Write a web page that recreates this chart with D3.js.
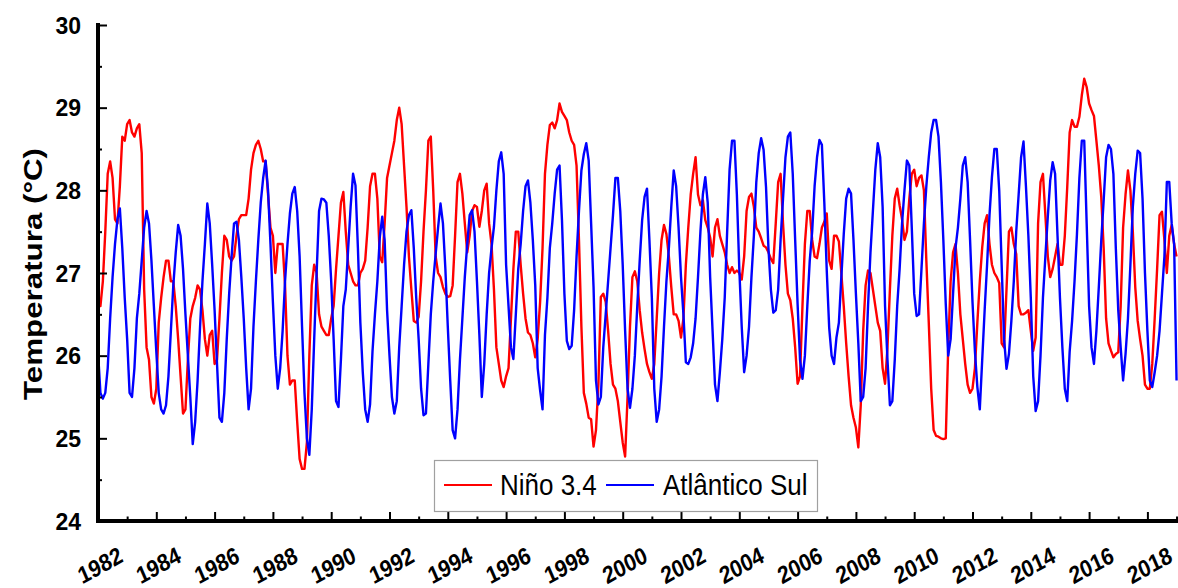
<!doctype html>
<html>
  <head>
    <title>Niño 3.4 e Atlântico Sul</title>
    <meta charset="utf-8" />
    <style>
      body { margin: 0; background: #fff; }
      svg { display: block; font-family: "Liberation Sans", Arial, sans-serif; }
      .serie { fill: none; stroke-width: 2.4px; stroke-linejoin: round; }
      .tick line { stroke: #000; stroke-width: 2px; }
      .ylab { font-size: 23px; font-weight: bold; }
      .xlab { font-size: 21px; font-weight: bold; }
    </style>
  </head>
  <body>
    <svg id="chart" width="1178" height="588"></svg>
    <script src="https://cdn.jsdelivr.net/npm/d3@7"></script>
    <script>
      var startYear = 1982;
      var yearTicks = [1982, 1984, 1986, 1988, 1990, 1992, 1994, 1996, 1998, 2000,
                       2002, 2004, 2006, 2008, 2010, 2012, 2014, 2016, 2018];
      var minorYearTicks = [1983, 1985, 1987, 1989, 1991, 1993, 1995, 1997, 1999, 2001,
                            2003, 2005, 2007, 2009, 2011, 2013, 2015, 2017, 2019];
      var tempTicks = [24, 25, 26, 27, 28, 29, 30];
      var minorTempTicks = [24.5, 25.5, 26.5, 27.5, 28.5, 29.5];
      var seriesNames = ['Niño 3.4', 'Atlântico Sul'];
      var seriesColors = ['#ff0000', '#0000ff'];

      // monthly values, Jan 1982 .. Jan 2019
      var nino34 = [
        26.7, 26.6, 26.9, 27.5, 28.2, 28.35, 28.15, 27.65, 27.6, 28.05, 28.65, 28.6,
        28.8, 28.85, 28.7, 28.65, 28.75, 28.8, 28.45, 26.8, 26.1, 25.95, 25.5, 25.42,
        25.6, 26.4, 26.7, 26.95, 27.15, 27.15, 26.9, 26.9, 26.6, 26.2, 25.75, 25.3,
        25.35, 25.95, 26.45, 26.6, 26.7, 26.85, 26.8, 26.55, 26.2, 26.0, 26.25, 26.3,
        25.9, 25.95, 26.45, 27.0, 27.45, 27.4, 27.2, 27.15, 27.2, 27.45, 27.65, 27.7,
        27.7, 27.7, 27.9, 28.25, 28.45, 28.55, 28.6, 28.5, 28.35, 28.35, 27.95, 27.55,
        27.45, 27.0, 27.35, 27.35, 27.35, 26.85, 26.0, 25.65, 25.7, 25.7, 25.2, 24.75,
        24.63, 24.63, 24.95, 26.0, 26.85, 27.1, 27.0, 26.5, 26.35, 26.3, 26.25, 26.25,
        26.45, 26.6, 27.05, 27.45, 27.85, 27.98, 27.5, 27.1, 27.0, 26.9, 26.85, 26.85,
        27.0, 27.05, 27.15, 27.55, 28.05, 28.2, 28.2, 27.9, 27.2, 27.13, 27.6, 28.15,
        28.3, 28.45, 28.6, 28.85, 29.0, 28.8, 28.3, 27.8, 27.2, 26.8, 26.42, 26.4,
        26.47, 26.9, 27.5, 28.0, 28.6, 28.65, 28.0, 27.2, 27.0, 26.95, 26.83, 26.75,
        26.71, 26.72, 26.85, 27.45, 28.1, 28.2, 27.96, 27.6, 27.25, 27.45, 27.75, 27.82,
        27.8, 27.56, 27.75, 28.0, 28.08, 27.6, 27.35, 26.8, 26.1, 25.9, 25.7, 25.62,
        25.75, 25.85, 26.45, 27.05, 27.5, 27.5, 27.1, 26.75, 26.45, 26.28, 26.25, 26.15,
        25.98, 26.2, 26.65, 27.3, 28.2, 28.55, 28.79, 28.82, 28.75, 28.85, 29.05, 28.95,
        28.9, 28.85, 28.7, 28.6, 28.55, 28.3, 27.4, 26.35, 25.55, 25.42, 25.25, 25.23,
        24.9, 25.1, 25.65, 26.71, 26.75, 26.65, 26.3, 25.9, 25.65, 25.6, 25.45, 25.2,
        24.95, 24.78, 25.5, 26.35, 26.95, 27.02, 26.9, 26.55, 26.28, 26.08, 25.9, 25.8,
        25.72, 25.9, 26.45, 27.0, 27.4, 27.58, 27.47, 27.2, 26.83, 26.5, 26.5, 26.42,
        26.22, 26.45, 27.1, 27.55, 27.95, 28.2, 28.4, 27.95, 27.82, 27.88, 27.64, 27.55,
        27.43, 27.2, 27.55, 27.65, 27.45, 27.35, 27.25, 27.1, 27.0, 27.07, 27.0, 27.03,
        27.0, 26.92, 27.2, 27.75, 27.92, 27.96, 27.8, 27.55, 27.5, 27.42, 27.33, 27.31,
        27.25, 27.17, 27.12, 27.6, 28.1, 28.2, 27.6, 27.1, 26.75, 26.67, 26.45, 26.1,
        25.66, 25.75, 26.6, 27.35, 27.75, 27.75, 27.4, 27.2, 27.18, 27.35, 27.55, 27.62,
        27.72, 27.15, 27.05, 27.45, 27.45, 27.38, 27.0, 26.6, 26.15, 25.75, 25.4, 25.25,
        25.13, 24.89, 25.4, 26.3, 26.85, 27.03, 27.0, 26.8, 26.6, 26.4, 26.3, 25.85,
        25.66, 26.1, 26.8, 27.45, 27.9, 28.02, 27.82, 27.65, 27.4, 27.5, 27.9, 28.2,
        28.25, 28.05, 28.15, 28.18, 28.0, 27.15, 26.4, 25.6, 25.1, 25.03, 25.02, 25.0,
        24.99, 25.0, 26.1, 26.9, 27.25, 27.35, 27.0, 26.5, 26.2, 25.9, 25.65, 25.55,
        25.6, 25.85, 26.4, 26.9, 27.31, 27.6, 27.7, 27.35, 27.1, 27.0, 26.95, 26.88,
        26.15, 26.1, 26.8, 27.5, 27.55, 27.35, 27.23, 26.6, 26.5, 26.5, 26.52, 26.55,
        26.3, 26.06, 26.22, 27.6, 28.1, 28.2, 27.7, 27.2, 26.95, 27.05, 27.2, 27.35,
        27.1, 27.1, 27.45, 28.04, 28.7, 28.85, 28.77, 28.77, 28.89, 29.15, 29.35, 29.25,
        29.05, 28.97, 28.9, 28.6, 28.3, 27.92, 27.3, 26.45, 26.15, 26.06, 25.98, 26.02,
        26.04, 26.6, 27.55, 27.95, 28.24, 28.0, 27.5, 26.83, 26.42, 26.2, 26.0, 25.65,
        25.6, 25.6, 25.9, 26.45, 27.05, 27.7, 27.74, 27.4, 27.0, 27.45, 27.58, 27.35,
        27.2
      ];

      var atlanticoSul = [
        26.05, 25.55, 25.48, 25.55, 25.85, 26.45, 26.95, 27.35, 27.65, 27.78, 27.3, 26.7,
        26.2, 25.55, 25.5, 25.85, 26.45, 26.75, 27.15, 27.55, 27.75, 27.6, 27.15, 26.6,
        26.05, 25.55, 25.35, 25.3, 25.4, 25.75, 26.3, 26.85, 27.25, 27.58, 27.45, 27.05,
        26.5, 26.0, 25.5, 24.93, 25.2, 25.7, 26.34, 26.9, 27.35, 27.84, 27.6, 27.1,
        26.55, 25.9, 25.25, 25.2, 25.55, 26.2, 26.75, 27.2, 27.6, 27.62, 27.4, 26.95,
        26.45, 25.85, 25.35, 25.6, 26.35, 26.9, 27.4, 27.85, 28.15, 28.36, 28.0, 27.35,
        26.65, 26.0, 25.6, 25.85, 26.3, 26.9, 27.35, 27.72, 27.96, 28.04, 27.75, 27.2,
        26.35, 25.55, 25.0, 24.8, 25.35, 26.2, 27.0, 27.75, 27.9, 27.89, 27.85, 27.45,
        26.9, 26.2, 25.45, 25.38, 25.95, 26.6, 26.8, 27.3, 27.8, 28.2, 28.06, 27.3,
        26.4, 25.8, 25.35, 25.2, 25.41, 26.05, 26.5, 26.9, 27.43, 27.68, 27.4, 26.55,
        26.0, 25.5, 25.3, 25.45, 26.1, 26.6, 27.1, 27.5, 27.7, 27.76, 27.3, 26.7,
        26.2, 25.6, 25.28, 25.3, 25.9, 26.5, 26.9, 27.23, 27.55, 27.84, 27.6, 27.05,
        26.35, 25.7, 25.1, 25.0, 25.35, 25.95, 26.45, 26.95, 27.35, 27.7, 27.76, 27.5,
        26.9, 26.25, 25.5, 25.9, 26.5, 27.0, 27.3, 27.56, 28.0, 28.35, 28.46, 28.2,
        27.1, 26.6, 26.1, 25.96, 26.5, 27.05, 27.35, 27.75, 28.05, 28.12, 27.85, 27.4,
        26.85, 25.85, 25.58, 25.35, 26.25, 26.7, 27.3, 27.6, 27.96, 28.25, 28.3, 27.64,
        26.75, 26.18, 26.08, 26.12, 26.55, 27.2, 27.75, 28.24, 28.44, 28.57, 28.36, 27.6,
        26.83, 25.7, 25.41, 25.5, 26.1, 26.5, 26.9, 27.3, 27.7, 28.15, 28.15, 27.75,
        27.1, 26.3, 25.6, 25.37, 25.6, 26.0, 26.6, 27.15, 27.64, 27.92, 28.02, 27.4,
        26.7, 25.6, 25.2, 25.35, 25.75, 26.35, 26.9, 27.3, 27.8, 28.24, 28.05, 27.55,
        26.95, 26.5, 25.92, 25.9, 25.98, 26.15, 26.45, 26.95, 27.5, 27.95, 28.16, 27.85,
        26.95, 26.3, 25.65, 25.45, 25.8, 26.2, 26.7, 27.5, 28.25, 28.6, 28.6, 27.95,
        27.05, 26.35, 25.8, 26.0, 26.35, 26.95, 27.45, 28.1, 28.45, 28.63, 28.49, 28.04,
        27.3, 26.8, 26.52, 26.55, 26.8, 27.4, 27.9, 28.4, 28.65, 28.7, 28.2, 27.4,
        26.62, 25.95, 25.72, 26.0, 26.6, 27.15, 27.5, 28.05, 28.4, 28.61, 28.55, 27.85,
        27.03, 26.34, 26.0, 25.9, 26.22, 26.4, 26.95, 27.47, 27.9, 28.02, 27.96, 27.4,
        26.75, 26.15, 25.45, 25.5, 25.85, 26.6, 27.25, 27.75, 28.25, 28.57, 28.4, 27.8,
        26.6, 25.95, 25.4, 25.45, 25.95, 26.6, 27.05, 27.6, 28.0, 28.36, 28.3, 27.55,
        26.75, 26.48, 26.5, 27.05, 27.6, 28.05, 28.4, 28.7, 28.85, 28.85, 28.65, 28.1,
        27.4, 26.62, 26.0, 26.2, 26.75, 27.3, 27.55, 27.9, 28.3, 28.4, 28.1, 27.4,
        26.65, 26.05, 25.62, 25.35, 25.95, 26.55, 27.1, 27.7, 28.16, 28.5, 28.5, 28.0,
        27.1, 26.2, 25.84, 26.02, 26.42, 26.9, 27.5, 27.95, 28.4, 28.59, 28.05, 27.45,
        26.7, 25.75, 25.33, 25.45, 26.0, 26.7, 27.2, 27.68, 28.12, 28.34, 28.2, 27.45,
        26.7, 26.1, 25.6, 25.45, 26.05, 26.42, 26.9, 27.47, 28.15, 28.6, 28.6, 27.6,
        26.6, 26.1, 25.9, 26.3, 26.83, 27.39, 27.88, 28.4, 28.55, 28.5, 28.2, 27.3,
        26.55, 26.1, 25.7, 26.02, 26.45, 27.1, 27.8, 28.2, 28.48, 28.45, 27.9, 27.0,
        26.3, 25.7, 25.62, 25.8, 26.0, 26.3, 26.75, 27.2, 28.1, 28.1, 27.6, 27.35,
        25.7
      ];

      var svg = d3.select('#chart');

      var x = d3.scaleLinear()
                .domain([1982, 2019.1])
                .range([98, 98 + 37.1 * 29.15]);
      var y = d3.scaleLinear()
                .domain([24, 30])
                .range([521, 25]);

      // data lines
      var line = d3.line()
                   .x(function(d, i) { return x(startYear + i / 12); })
                   .y(function(d) { return y(d); });

      var series = [nino34, atlanticoSul];
      svg.selectAll('.serie')
         .data(series)
         .enter().append('path')
         .attr('class', 'serie')
         .style('stroke', function(d, i) { return seriesColors[i]; })
         .attr('d', line);

      // y axis
      var yAxis = svg.append('g')
                     .attr('transform', 'translate(98,0)')
                     .call(d3.axisLeft(y)
                             .tickValues(tempTicks)
                             .tickSize(-9)
                             .tickPadding(17)
                             .tickFormat(d3.format('d')));
      yAxis.select('.domain').remove();
      yAxis.selectAll('text')
           .attr('class', 'ylab')
           .attr('fill', '#000')
           .attr('dy', '0.36em');

      var yMinor = svg.append('g')
                      .attr('transform', 'translate(98,0)')
                      .call(d3.axisLeft(y)
                              .tickValues(minorTempTicks)
                              .tickSize(-4)
                              .tickFormat(''));
      yMinor.select('.domain').remove();

      // x axis
      var xAxis = svg.append('g')
                     .attr('transform', 'translate(0,521)')
                     .call(d3.axisBottom(x)
                             .tickValues(yearTicks)
                             .tickSize(-9)
                             .tickFormat(''));
      xAxis.select('.domain').remove();

      var xMinor = svg.append('g')
                      .attr('transform', 'translate(0,521)')
                      .call(d3.axisBottom(x)
                              .tickValues(minorYearTicks)
                              .tickSize(-4.5)
                              .tickFormat(''));
      xMinor.select('.domain').remove();

      svg.append('line')
         .attr('x1', 98).attr('x2', 98)
         .attr('y1', 23).attr('y2', 523)
         .attr('stroke', '#000').attr('stroke-width', 4);
      svg.append('line')
         .attr('x1', 96).attr('x2', 1178)
         .attr('y1', 521).attr('y2', 521)
         .attr('stroke', '#000').attr('stroke-width', 4);

      // year labels, slanted and a bit stretched like the original
      svg.selectAll('.xlab')
         .data(yearTicks)
         .enter().append('text')
         .attr('class', 'xlab')
         .attr('transform', function(d) {
           return 'translate(' + (x(d) + 2) + ',565) scale(1,1.15) rotate(-26)';
         })
         .attr('text-anchor', 'middle')
         .attr('dy', '0.36em')
         .text(function(d) { return d; });

      // y title
      svg.append('text')
         .attr('transform', 'translate(42,274) rotate(-90)')
         .attr('text-anchor', 'middle')
         .attr('textLength', 252)
         .attr('lengthAdjust', 'spacingAndGlyphs')
         .style('font-size', '26px')
         .style('font-weight', 'bold')
         .text('Temperatura (°C)');

      // legend
      var legend = svg.append('g');
      legend.append('rect')
            .attr('x', 434.5).attr('y', 460.5)
            .attr('width', 383).attr('height', 51)
            .attr('fill', '#fff')
            .attr('stroke', '#a0a0a0')
            .attr('stroke-width', 1.2);

      var legendX = [[444, 492, 500], [606, 654, 663]];
      seriesNames.forEach(function(name, i) {
        legend.append('line')
              .attr('x1', legendX[i][0]).attr('x2', legendX[i][1])
              .attr('y1', 485).attr('y2', 485)
              .attr('stroke', seriesColors[i])
              .attr('stroke-width', 2.2);
        legend.append('g')
              .attr('transform', 'translate(' + legendX[i][2] + ',495) scale(1,1.15)')
              .append('text')
              .style('font-size', '26px')
              .text(name);
      });
    </script>
  </body>
</html>
